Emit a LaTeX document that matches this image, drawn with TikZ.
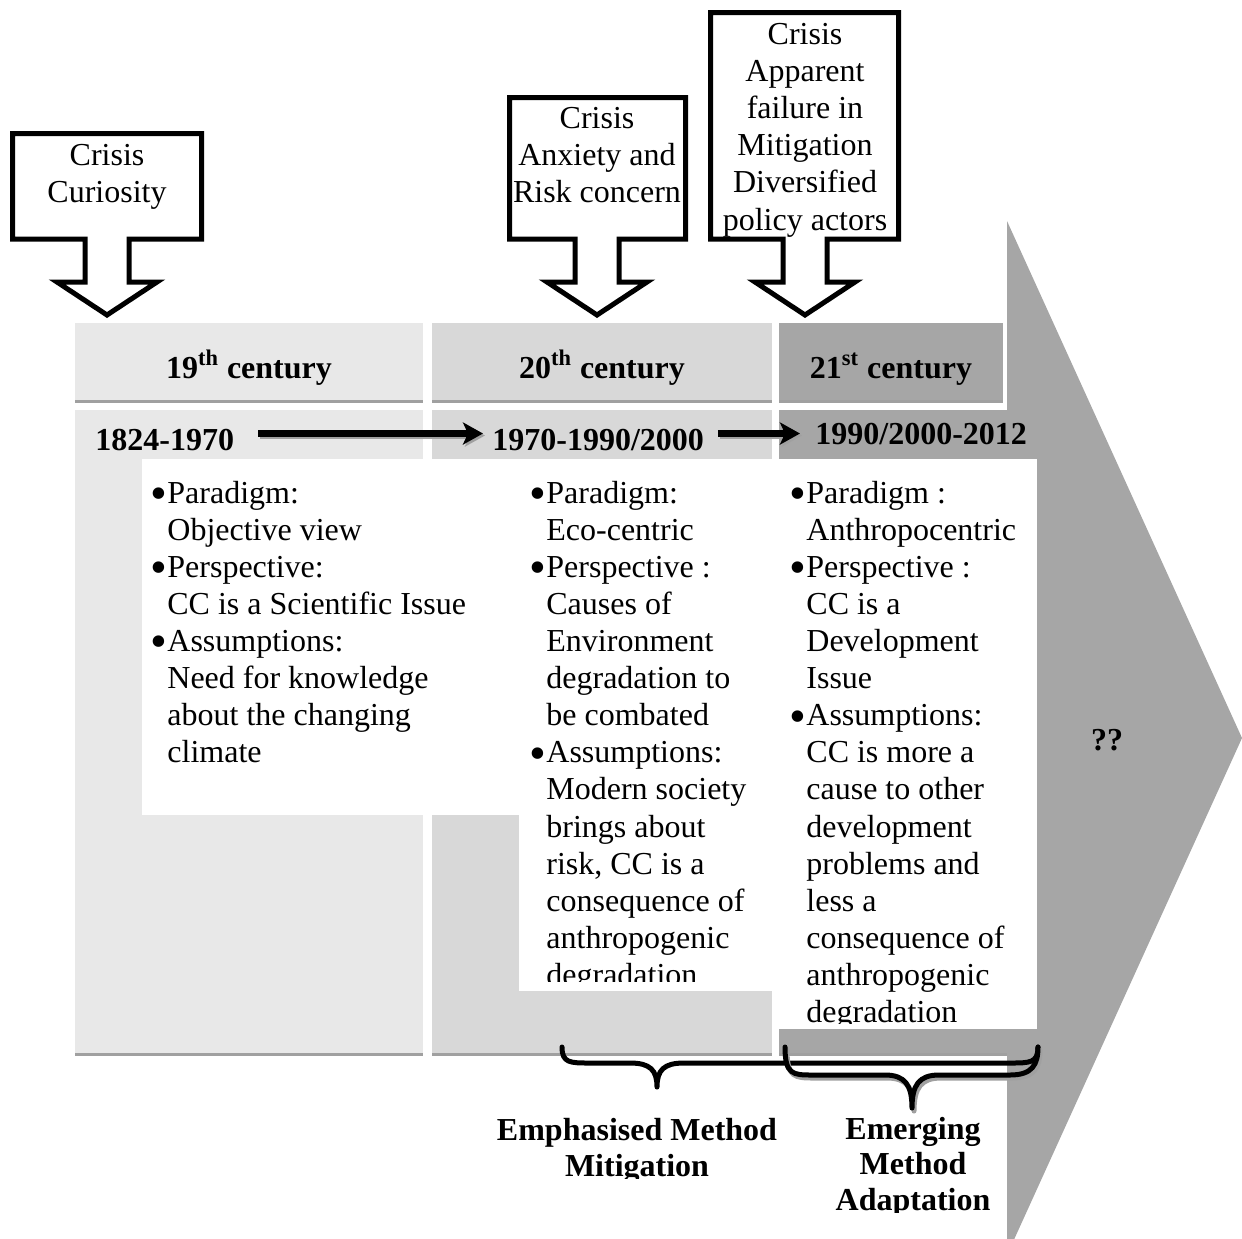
\documentclass[tikz,border=0pt]{standalone}
\usepackage{fontspec}
\setmainfont{Liberation Serif}
\usetikzlibrary{arrows.meta}
\definecolor{cA}{RGB}{232,232,232}
\definecolor{cB}{RGB}{216,216,216}
\definecolor{cC}{RGB}{166,166,166}
\definecolor{shd}{RGB}{160,160,160}
\newcommand\mybul{\makebox[8.5pt][l]{\raisebox{-3.2pt}{\scalebox{1.5}{•}}}}
\newcommand\myind{\hspace*{8.5pt}}
\begin{document}
\begin{tikzpicture}[x=0.5pt,y=-0.5pt,
  txt/.style={inner sep=0pt, font=\fontsize{16pt}{18.55pt}\selectfont},
  bodytxt/.style={txt, anchor=north west, align=left},
  headtxt/.style={inner sep=0pt, anchor=base, font=\fontsize{16pt}{18pt}\selectfont\bfseries},
  yeartxt/.style={inner sep=0pt, anchor=base west, font=\fontsize{16pt}{18pt}\selectfont\bfseries},
  labtxt/.style={inner sep=0pt, anchor=north, align=center, font=\fontsize{16pt}{17.75pt}\selectfont\bfseries},
  calltxt/.style={txt, anchor=north, align=center},
  callout/.style={draw=black, fill=white, line width=2.5pt, line join=miter, miter limit=10},
  yarrow/.style={line width=3.5pt, -{Stealth[length=10pt,width=11pt,inset=2.5pt]}},
  bracestyle/.style={line width=2.5pt, line cap=round, line join=round},
]
\useasboundingbox (0,0) rectangle (1242,1238);

% big background arrow
\fill[cC] (1007,221) -- (1242,738) -- (1007,1255) -- cycle;

% column headers
\fill[cA] (75,323) rectangle (423,400);
\fill[cB] (432,323) rectangle (772,400);
\fill[cC] (779,323) rectangle (1003,400);
\fill[shd] (75,400) rectangle (423,403);
\fill[shd] (432,400) rectangle (772,403);
\fill[shd] (779,400) rectangle (1003,403);

% column bodies
\fill[cA] (75,410) rectangle (423,1053);
\fill[cB] (432,410) rectangle (772,1053);
\fill[cC] (779,410) rectangle (1008,1053);
\fill[shd] (75,1053) rectangle (423,1056);
\fill[shd] (432,1053) rectangle (772,1056);
\fill[shd] (779,1053) rectangle (1007,1056);

% white text panels
\fill[white] (142,459) rectangle (519,815);
\fill[white] (519,459) rectangle (772,991);
\fill[white] (779,459) rectangle (1037,1029);

% header texts
\node[headtxt] (h1) at (249,378) {19\textsuperscript{th} century};
\node[headtxt] (h2) at (602,378) {20\textsuperscript{th} century};
\node[headtxt] (h3) at (891,378) {21\textsuperscript{st} century};

% year labels
\node[yeartxt] (y1) at (95,450) {1824-1970};
\node[yeartxt] (y2) at (492,450) {1970-1990/2000};
\node[yeartxt] (y3) at (815,444) {1990/2000-2012};

% year arrows with shadow
\begin{scope}[transform canvas={shift={(1pt,-1pt)}}]
\draw[yarrow, shd, shorten <=12pt, shorten >=4.5pt] ([yshift=3pt]y1.east) -- ([yshift=3pt]y1.east -| y2.west);
\draw[yarrow, shd, shorten <=6.75pt, shorten >=7.5pt] ([yshift=3pt]y2.east) -- ([yshift=3pt]y2.east -| y3.west);
\end{scope}
\draw[yarrow, shorten <=12pt, shorten >=4.5pt] ([yshift=3pt]y1.east) -- ([yshift=3pt]y1.east -| y2.west);
\draw[yarrow, shorten <=6.75pt, shorten >=7.5pt] ([yshift=3pt]y2.east) -- ([yshift=3pt]y2.east -| y3.west);

% body texts
\node[bodytxt] (b1) at (150,480.5) {\mybul Paradigm:\\ \myind Objective view\\ \mybul Perspective:\\ \myind CC is a Scientific Issue\\ \mybul Assumptions:\\ \myind Need for knowledge\\ \myind about the changing\\ \myind climate};
\begin{scope}
\clip (519,459) rectangle (772,981);
\node[bodytxt] (b2) at (529,480.5) {\mybul Paradigm:\\ \myind Eco-centric\\ \mybul Perspective :\\ \myind Causes of\\ \myind Environment\\ \myind degradation to\\ \myind be combated\\ \mybul Assumptions:\\ \myind Modern society\\ \myind brings about\\ \myind risk, CC is a\\ \myind consequence of\\ \myind anthropogenic\\ \myind degradation};
\end{scope}
\begin{scope}
\clip (779,459) rectangle (1037,1023);
\node[bodytxt] (b3) at (789,480.5) {\mybul Paradigm :\\ \myind Anthropocentric\\ \mybul Perspective :\\ \myind CC is a\\ \myind Development\\ \myind Issue\\ \mybul Assumptions:\\ \myind CC is more a\\ \myind cause to other\\ \myind development\\ \myind problems and\\ \myind less a\\ \myind consequence of\\ \myind anthropogenic\\ \myind degradation};
\end{scope}

\node[headtxt, anchor=center] (qq) at (1107,740) {??};

% braces
\draw[bracestyle] (562,1047) .. controls (562,1063) and (570,1063) .. (590,1063) -- (630,1063) .. controls (650,1063) and (657,1070) .. (657,1087) .. controls (657,1070) and (664,1063) .. (684,1063) -- (1010,1063) .. controls (1030,1063) and (1038,1063) .. (1038,1047);
\begin{scope}[shift={(2,3)}]
\draw[bracestyle, shd] (785,1047) .. controls (785,1075) and (793,1075) .. (813,1075) -- (885,1075) .. controls (905,1075) and (912,1085) .. (912,1108) .. controls (912,1085) and (919,1075) .. (939,1075) -- (1010,1075) .. controls (1032,1075) and (1038,1065) .. (1038,1047);
\end{scope}
\draw[bracestyle] (785,1047) .. controls (785,1075) and (793,1075) .. (813,1075) -- (885,1075) .. controls (905,1075) and (912,1085) .. (912,1108) .. controls (912,1085) and (919,1075) .. (939,1075) -- (1010,1075) .. controls (1032,1075) and (1038,1065) .. (1038,1047);

% bottom labels
\begin{scope}
\clip (470,1100) rectangle (800,1178);
\node[labtxt] (m1) at (637,1118) {Emphasised Method\\Mitigation};
\end{scope}
\begin{scope}
\clip (800,1100) rectangle (1010,1212);
\node[labtxt] (m2) at (913,1116.5) {Emerging\\Method\\Adaptation};
\end{scope}

% callouts
\draw[callout] (12.5,133.5) -- (201.5,133.5) -- (201.5,239) -- (129,239) -- (129,282) -- (157,282) -- (107,315) -- (57,282) -- (85,282) -- (85,239) -- (12.5,239) -- cycle;
\draw[callout] (509.5,97.5) -- (685.5,97.5) -- (685.5,239) -- (619,239) -- (619,282) -- (647,282) -- (597,315) -- (547,282) -- (575,282) -- (575,239) -- (509.5,239) -- cycle;
\draw[callout] (710.5,12.5) -- (898.5,12.5) -- (898.5,239) -- (827,239) -- (827,282) -- (855,282) -- (805,315) -- (755,282) -- (783,282) -- (783,239) -- (710.5,239) -- cycle;

\node[calltxt] (c1) at (107,144) {Crisis\\Curiosity};
\node[calltxt] (c2) at (597,107) {Crisis\\Anxiety and\\Risk concern};
\node[calltxt] (c3) at (805,23) {Crisis\\Apparent\\failure in\\Mitigation\\Diversified\\policy actors};
\end{tikzpicture}
\end{document}
